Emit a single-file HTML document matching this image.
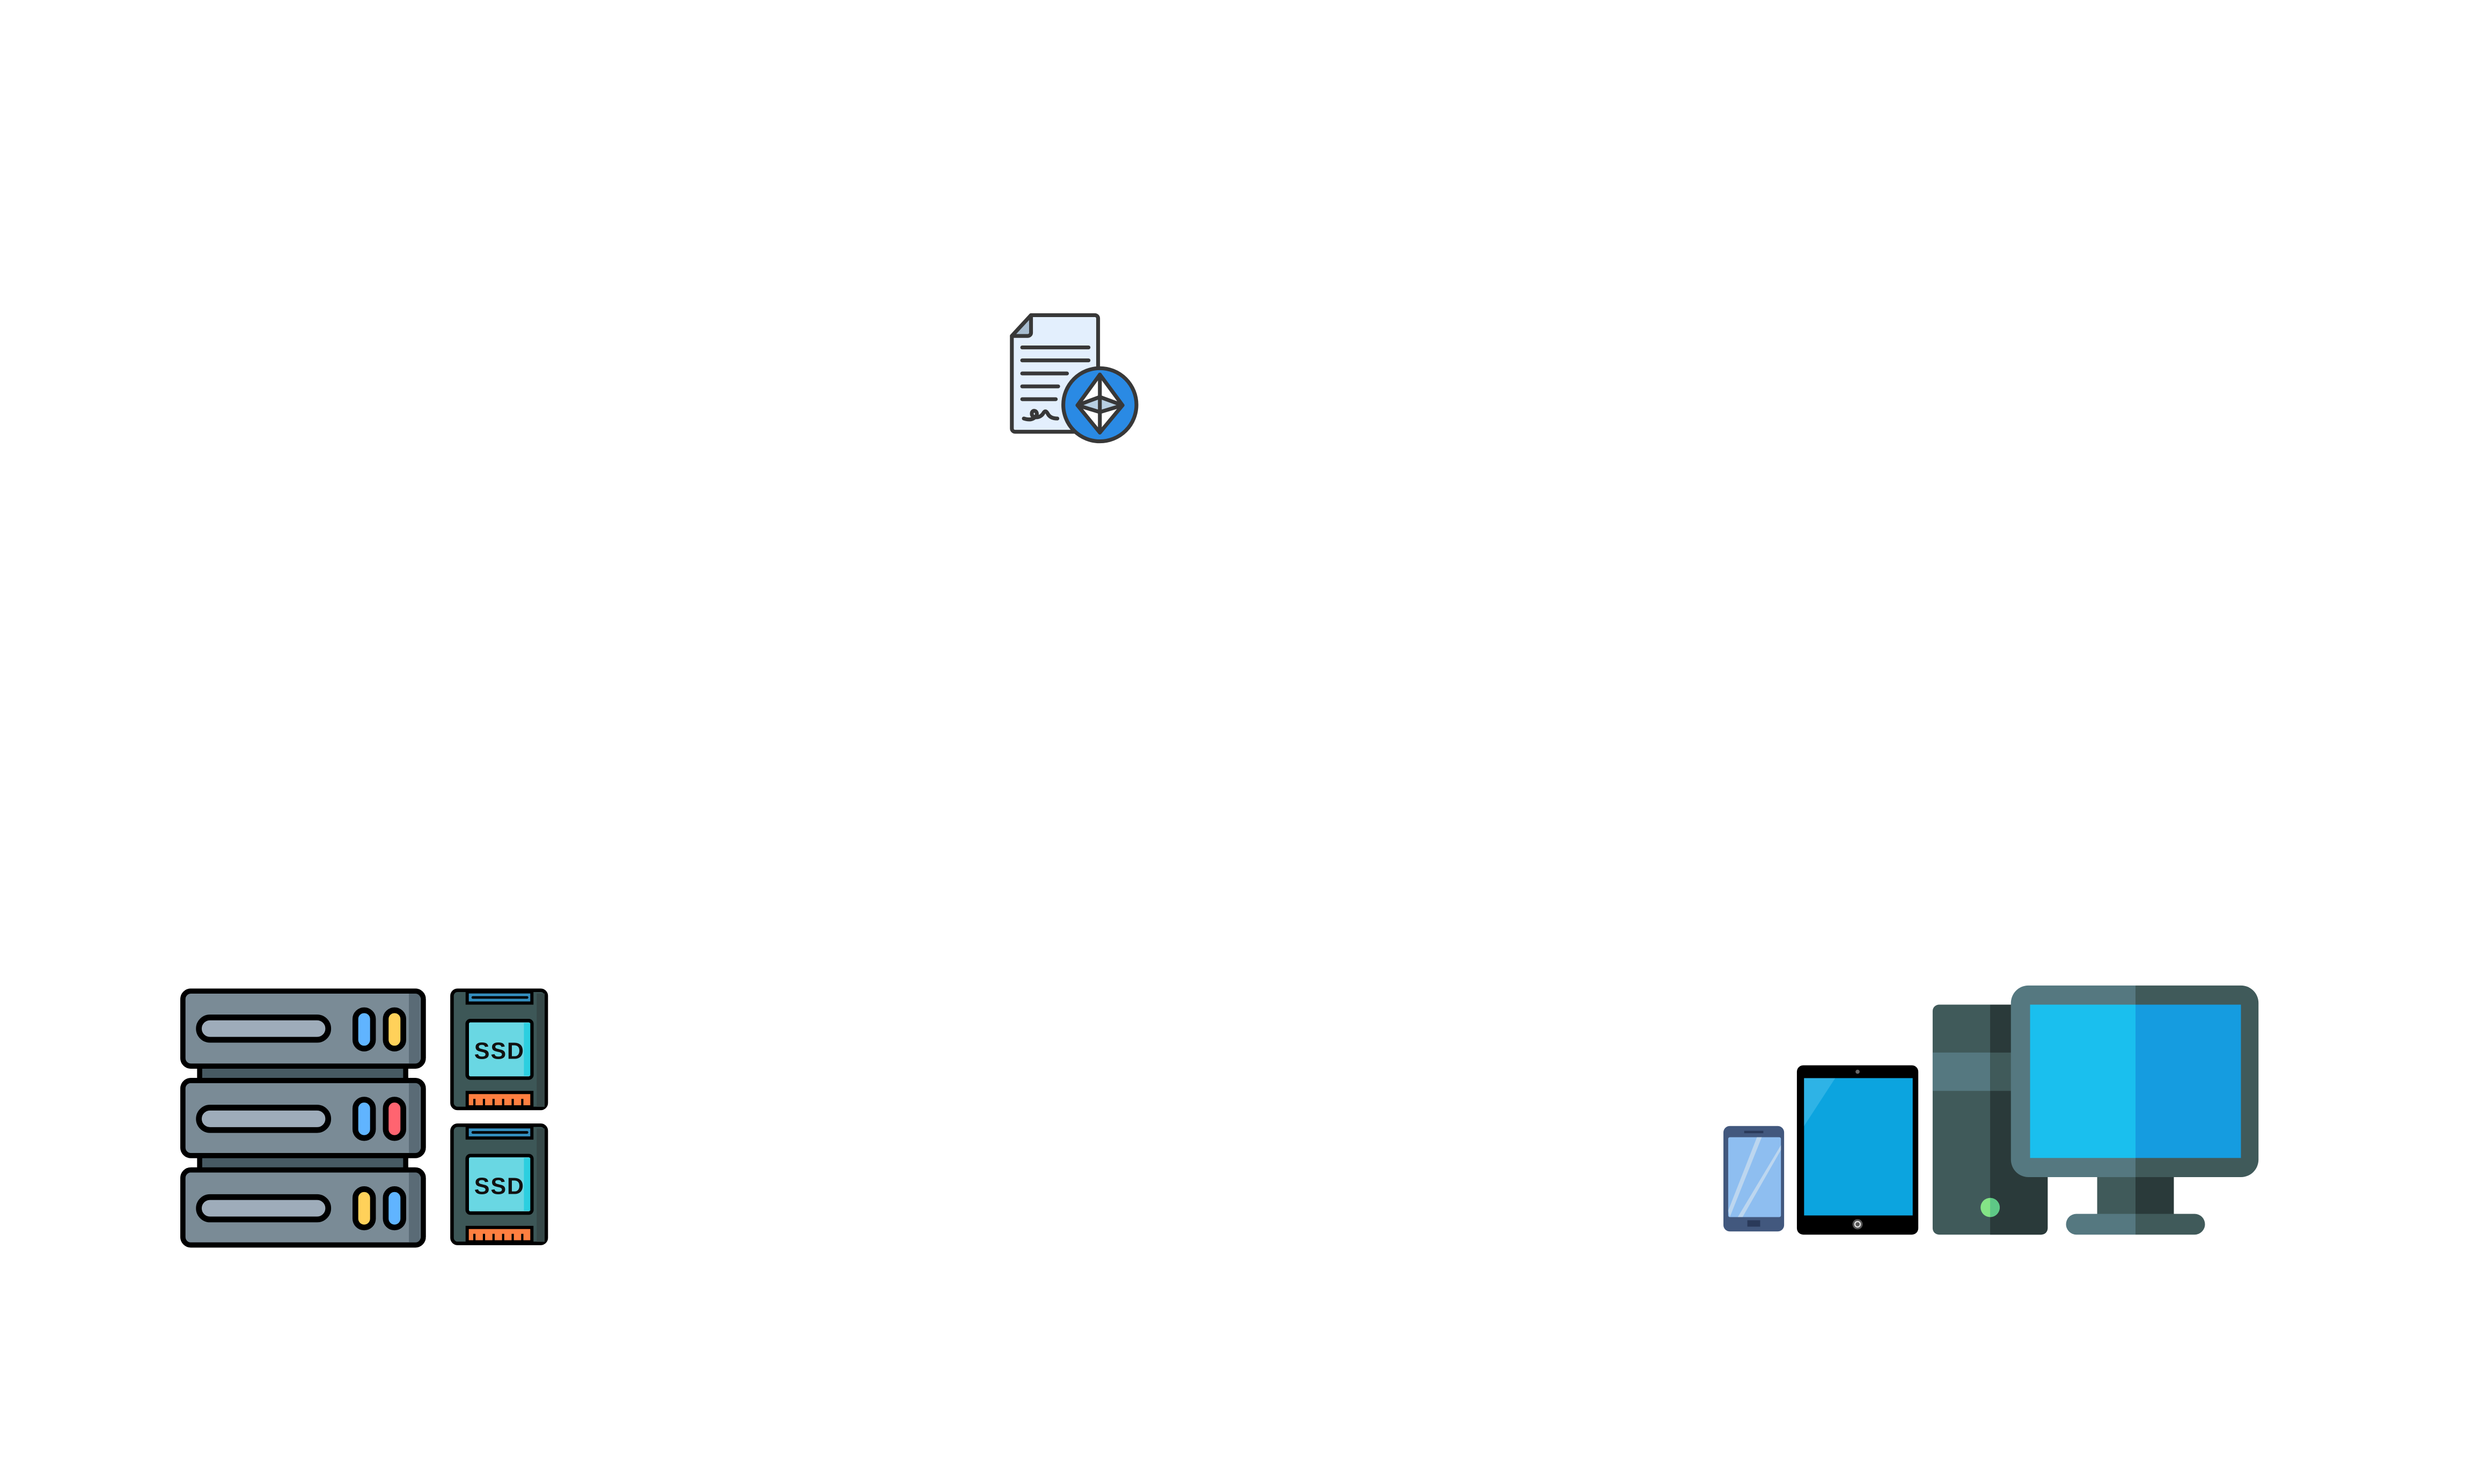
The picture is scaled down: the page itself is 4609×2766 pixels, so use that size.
<!DOCTYPE html>
<html><head><meta charset="utf-8"><style>html,body{margin:0;padding:0;background:#fff}svg{display:block}</style></head>
<body>
<svg width="4609" height="2766" viewBox="0 0 1548.3 929.1" xmlns="http://www.w3.org/2000/svg">
<rect width="1548.3" height="929.1" fill="#fff"/>
<!-- Contract -->
<g stroke="#383838" stroke-width="2.4" stroke-linecap="round" stroke-linejoin="round">
<path d="M645.5,197.3 H685.5 a2,2 0 0 1 2,2 V270.3 H635.5 a2,2 0 0 1 -2,-2 V210.3 Z" fill="#e3effd"/>
<path d="M645.5,197.3 V208.3 a2,2 0 0 1 -2,2 H633.5 Z" fill="#a7bccf"/>
<line x1="640" y1="217.5" x2="681.5" y2="217.5"/>
<line x1="640" y1="225.6" x2="681.5" y2="225.6"/>
<line x1="640" y1="233.8" x2="668" y2="233.8"/>
<line x1="640" y1="241.9" x2="662.5" y2="241.9"/>
<line x1="640" y1="249.9" x2="661" y2="249.9"/>
<path d="M641,262 c3,1 6,1 8,-2 c1,-3 -3,-4 -3,-1 c0,3 5,3 7,0 c1,-2 2,-2 3,0 c1,2 3,3 6,3" fill="none"/>
<circle cx="688.6" cy="253.4" r="22.9" fill="#2a8ae4"/>
<path d="M688.6,234.5 L702.8,253.7 L688.6,270.8 L674.6,253.7 Z" fill="#ffffff"/>
<path d="M674.6,253.7 L688.6,248.5 L702.8,253.7 L688.6,258 Z" fill="#b8d0e3"/>
<line x1="688.6" y1="234.5" x2="688.6" y2="270.8"/>
</g>
<!-- Server -->
<g stroke="#000" stroke-width="3.2" stroke-linejoin="round">
<rect x="125" y="666" width="129" height="11" fill="#475a63"/>
<rect x="125" y="722" width="129" height="11" fill="#475a63"/>
<g id="u">
</g>
<rect x="114.5" y="620.5" width="150.5" height="47" rx="5" fill="#7a8b96"/>
<rect x="114.5" y="676.5" width="150.5" height="47" rx="5" fill="#7a8b96"/>
<rect x="114.5" y="732.5" width="150.5" height="47" rx="5" fill="#7a8b96"/>
</g>
<g fill="#5a6b76"><rect x="256" y="622" width="7" height="44"/><rect x="256" y="678" width="7" height="44"/><rect x="256" y="734" width="7" height="44"/></g>
<g stroke="#000" stroke-width="3.2" fill="none"><rect x="114.5" y="620.5" width="150.5" height="47" rx="5"/><rect x="114.5" y="676.5" width="150.5" height="47" rx="5"/><rect x="114.5" y="732.5" width="150.5" height="47" rx="5"/></g>
<g stroke="#000" stroke-width="3.6" fill="#9eacba">
<rect x="124.5" y="637" width="81" height="14" rx="7"/>
<rect x="124.5" y="693.5" width="81" height="14" rx="7"/>
<rect x="124.5" y="749.5" width="81" height="14" rx="7"/>
<rect x="222.5" y="632.5" width="11" height="24" rx="5.5" fill="#60b4ff"/>
<rect x="241.5" y="632.5" width="11" height="24" rx="5.5" fill="#ffd15a"/>
<rect x="222.5" y="688.5" width="11" height="24" rx="5.5" fill="#60b4ff"/>
<rect x="241.5" y="688.5" width="11" height="24" rx="5.5" fill="#ff6470"/>
<rect x="222.5" y="744.5" width="11" height="24" rx="5.5" fill="#ffd15a"/>
<rect x="241.5" y="744.5" width="11" height="24" rx="5.5" fill="#60b4ff"/>
</g>
<!-- SSDs -->
<g id="ssd1">
<rect x="283" y="620" width="59" height="74" rx="3.5" fill="#3d5757" stroke="#000" stroke-width="2.2"/>
<rect x="336" y="622" width="5" height="71" fill="#364848"/>
<rect x="292.5" y="621" width="40.5" height="7" fill="#348fbf" stroke="#000" stroke-width="2"/>
<line x1="296" y1="624.5" x2="330" y2="624.5" stroke="#000" stroke-width="1.6" stroke-linecap="round"/>
<rect x="292.5" y="639" width="40.5" height="36" rx="2" fill="#69d7e3" stroke="#000" stroke-width="2.2"/>
<rect x="328" y="640.5" width="4" height="33" fill="#2ccfe0"/>
<text x="312.7" y="663" text-anchor="middle" font-family="Liberation Sans, DejaVu Sans, sans-serif" font-weight="bold" font-size="14.5" letter-spacing="0.6" fill="#111">SSD</text>
<rect x="292.5" y="684" width="40.5" height="9" fill="#ff7f40" stroke="#000" stroke-width="2"/>
<g stroke="#000" stroke-width="1.4"><line x1="297" y1="688" x2="297" y2="693"/><line x1="303" y1="688" x2="303" y2="693"/><line x1="309" y1="688" x2="309" y2="693"/><line x1="315" y1="688" x2="315" y2="693"/><line x1="321" y1="688" x2="321" y2="693"/><line x1="327" y1="688" x2="327" y2="693"/></g>
</g>
<use href="#ssd1" transform="translate(0,84.5)"/>
<!-- Phone -->
<rect x="1079" y="705" width="38" height="66" rx="4" fill="#42587e"/>
<rect x="1082" y="712" width="33" height="50" rx="1" fill="#8ebef0"/>
<path d="M1082,758 L1100,712 L1103,712 L1083,762 Z M1088,762 L1115,717 L1115,720 L1091,762 Z" fill="#bcd6ef"/>
<rect x="1092" y="708" width="12" height="1.5" fill="#2a3a5a"/>
<rect x="1094" y="764" width="8" height="4" fill="#2a3a5a"/>
<!-- Tablet -->
<rect x="1125" y="667" width="76" height="106" rx="4" fill="#000"/>
<rect x="1129.5" y="675" width="68" height="86" fill="#0ca4df"/>
<path d="M1129.5,675 H1149 L1129.5,705 Z" fill="#2eb3e6"/>
<circle cx="1163" cy="671" r="1.3" fill="#666"/>
<circle cx="1163" cy="766.5" r="3.2" fill="#555"/><circle cx="1163" cy="766.5" r="1.7" fill="none" stroke="#ddd" stroke-width="0.8"/>
<!-- Tower -->
<rect x="1210" y="629" width="72" height="144" rx="4" fill="#405a5a"/>
<path d="M1246,629 H1278 a4,4 0 0 1 4,4 V769 a4,4 0 0 1 -4,4 H1246 Z" fill="#2a3a3a"/>
<rect x="1210" y="659" width="36" height="24" fill="#557880"/>
<rect x="1246" y="659" width="36" height="24" fill="#405a5a"/>
<circle cx="1246" cy="756" r="6" fill="#84e486"/>
<path d="M1246,750 a6,6 0 0 1 0,12 Z" fill="#5ec886"/>
<!-- Monitor -->
<rect x="1313" y="735" width="24" height="27" fill="#405a5a"/>
<rect x="1337" y="735" width="24" height="27" fill="#2a3a3a"/>
<path d="M1300,760 H1337 V773 H1300 a6,6 0 0 1 0,-13 Z" fill="#557880"/>
<path d="M1337,760 H1374 a6,6 0 0 1 0,13 H1337 Z" fill="#405a5a"/>
<path d="M1270,617 H1337 V737 H1270 a11,11 0 0 1 -11,-11 V628 a11,11 0 0 1 11,-11 Z" fill="#557880"/>
<path d="M1337,617 H1403 a11,11 0 0 1 11,11 V726 a11,11 0 0 1 -11,11 H1337 Z" fill="#405a5a"/>
<rect x="1271" y="629" width="66" height="96" fill="#1abfee"/>
<rect x="1337" y="629" width="66" height="96" fill="#159ce0"/>
</svg>
</body></html>
